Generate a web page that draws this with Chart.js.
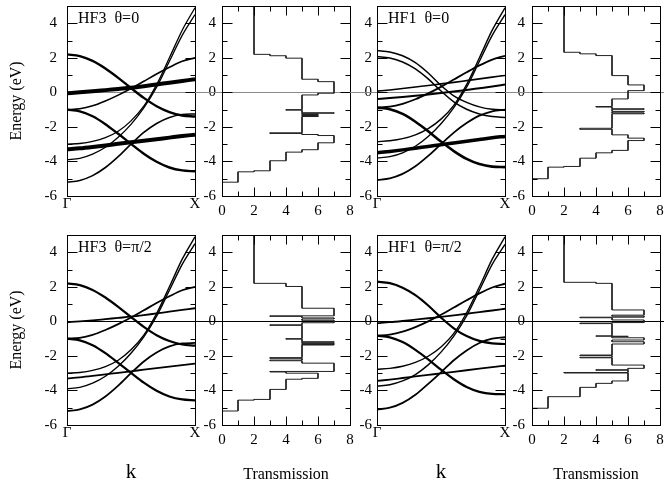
<!DOCTYPE html>
<html>
<head>
<meta charset="utf-8">
<script src="https://cdn.jsdelivr.net/npm/chart.js@4.4.0/dist/chart.umd.min.js"></script>
<style>
html, body { margin: 0; padding: 0; background: #fff; }
#wrap { position: relative; width: 664px; height: 487px; overflow: hidden; background: #fff; }
#wrap canvas { position: absolute; }
</style>
</head>
<body>
<div id="wrap"></div>
<script>
// k along Gamma -> X, sampled every 0.1
const kPoints = [0, 0.1, 0.2, 0.3, 0.4, 0.5, 0.6, 0.7, 0.8, 0.9, 1];
const kTickLabels = ['Γ', 'X'];
const energyTicks = [-6, -4, -2, 0, 2, 4];
const transTicks = [0, 2, 4, 6, 8];

// band energies (eV) at kPoints, HF3 (same for both angles)
const hf3Bands = [
  [2.2, 2.1, 1.82, 1.38, 0.84, 0.25, -0.32, -0.8, -1.14, -1.34, -1.4],
  [-0.05, 0.0, 0.06, 0.13, 0.2, 0.27, 0.36, 0.46, 0.56, 0.66, 0.76],
  [-1.0, -0.95, -0.78, -0.5, -0.16, 0.22, 0.64, 1.06, 1.45, 1.8, 2.0],
  [-1.0, -1.1, -1.38, -1.84, -2.4, -2.98, -3.55, -4.02, -4.35, -4.52, -4.57],
  [-5.2, -5.1, -4.82, -4.35, -3.72, -3.0, -2.32, -1.8, -1.45, -1.28, -1.25],
  [-3.3, -3.24, -3.16, -3.07, -2.98, -2.89, -2.8, -2.71, -2.62, -2.53, -2.45],
  [-3.0, -2.96, -2.84, -2.62, -2.25, -1.65, -0.8, 0.45, 2.0, 3.6, 4.9],
  [-3.9, -3.82, -3.58, -3.18, -2.6, -1.85, -0.9, 0.3, 1.8, 3.3, 4.5]
];

// HF1, theta = 0
const hf1Theta0Bands = [
  [2.42, 2.34, 2.12, 1.72, 1.12, 0.4, -0.2, -0.58, -0.84, -0.98, -1.02],
  [2.07, 1.99, 1.76, 1.36, 0.78, 0.08, -0.55, -0.98, -1.25, -1.4, -1.45],
  [0.07, 0.14, 0.22, 0.31, 0.4, 0.49, 0.58, 0.68, 0.78, 0.88, 0.98],
  [-0.38, -0.33, -0.27, -0.2, -0.12, -0.04, 0.05, 0.14, 0.24, 0.34, 0.45],
  [-0.88, -0.83, -0.66, -0.4, -0.06, 0.32, 0.74, 1.16, 1.56, 1.9, 2.12],
  [-0.88, -0.98, -1.25, -1.7, -2.25, -2.85, -3.4, -3.85, -4.15, -4.3, -4.33],
  [-5.07, -4.98, -4.72, -4.28, -3.68, -3.0, -2.33, -1.78, -1.35, -1.1, -1.0],
  [-3.5, -3.42, -3.33, -3.23, -3.13, -3.03, -2.93, -2.83, -2.73, -2.63, -2.55],
  [-2.85, -2.8, -2.68, -2.46, -2.1, -1.55, -0.75, 0.45, 2.0, 3.6, 4.9],
  [-3.8, -3.72, -3.5, -3.12, -2.56, -1.82, -0.88, 0.3, 1.8, 3.3, 4.5]
];

// HF1, theta = pi/2
const hf1Theta90Bands = [
  [2.3, 2.21, 1.95, 1.52, 0.92, 0.22, -0.4, -0.85, -1.13, -1.27, -1.31],
  [-0.1, -0.05, 0.02, 0.1, 0.18, 0.26, 0.35, 0.44, 0.54, 0.63, 0.73],
  [-0.83, -0.77, -0.6, -0.33, 0.0, 0.38, 0.8, 1.22, 1.62, 1.96, 2.18],
  [-0.83, -0.93, -1.2, -1.65, -2.2, -2.8, -3.35, -3.8, -4.08, -4.2, -4.22],
  [-5.1, -5.0, -4.72, -4.25, -3.62, -2.95, -2.25, -1.68, -1.25, -1.0, -0.92],
  [-3.45, -3.37, -3.28, -3.19, -3.1, -3.01, -2.92, -2.83, -2.74, -2.65, -2.57],
  [-2.77, -2.72, -2.6, -2.38, -2.02, -1.48, -0.7, 0.5, 2.0, 3.6, 4.9],
  [-3.75, -3.67, -3.45, -3.08, -2.52, -1.78, -0.85, 0.32, 1.8, 3.3, 4.45]
];

// transmission staircases: energy edges (top to bottom) and the value in each interval
const trHf3Theta0Edges = [5, 2.2, 2.12, 1.98, 0.76, 0.62, -0.05, -0.15, -1.0, -1.03, -1.18, -1.21, -1.25, -1.28, -1.31, -1.34, -1.37, -1.4, -2.34, -2.38, -2.44, -2.5, -2.92, -3.32, -3.46, -3.96, -4.54, -4.6, -5.2, -6];
const trHf3Theta0Values = [2, 3, 4, 5, 6, 7, 6, 5, 4, 5, 7, 5, 6, 5, 6, 5, 6, 5, 3, 5, 6, 7, 6, 5, 4, 3, 2, 1, 0];

const trHf1Theta0Edges = [5, 2.32, 2.23, 2.13, 0.97, 0.43, 0.1, -0.38, -0.82, -0.85, -0.95, -0.98, -1.1, -1.14, -1.2, -1.24, -2.08, -2.14, -2.46, -2.65, -2.79, -3.36, -3.5, -3.81, -4.29, -4.33, -5.0, -6];
const trHf1Theta0Values = [2, 3, 4, 5, 6, 7, 6, 5, 4, 5, 7, 5, 7, 5, 7, 5, 3, 5, 6, 7, 6, 5, 4, 3, 2, 1, 0];

const trHf3Theta90Edges = [5, 2.2, 2.02, 0.76, 0.32, 0.29, 0.2, 0.14, 0.06, -0.08, -0.2, -0.23, -1.0, -1.03, -1.18, -1.21, -1.26, -1.29, -1.34, -1.37, -2.1, -2.14, -2.24, -2.28, -2.42, -2.9, -2.93, -3.0, -3.3, -3.35, -3.94, -4.52, -4.56, -5.19, -6];
const trHf3Theta90Values = [2, 4, 5, 7, 3, 5, 7, 5, 7, 5, 3, 5, 4, 5, 7, 5, 7, 5, 7, 5, 3, 5, 3, 5, 7, 3, 4, 6, 5, 4, 3, 2, 1, 0];

const trHf1Theta90Edges = [5, 2.26, 2.2, 0.66, 0.36, 0.3, 0.24, 0.21, 0.08, -0.07, -0.1, -0.13, -0.84, -0.86, -0.88, -0.95, -1.08, -1.18, -1.31, -1.95, -1.98, -2.08, -2.11, -2.53, -2.72, -2.8, -2.83, -2.96, -2.99, -3.45, -3.59, -3.82, -4.36, -5.03, -6];
const trHf1Theta90Values = [2, 4, 5, 7, 5, 7, 3, 5, 7, 5, 3, 5, 4, 6, 5, 7, 5, 7, 5, 3, 5, 3, 5, 7, 6, 4, 6, 2, 6, 5, 4, 3, 1, 0];

// line widths per band (style, not data)
const hf3Theta0Widths = [2.4, 4, 1.6, 2.4, 1.6, 4, 1.3, 1.3];
const hf3Theta90Widths = [2.2, 1.8, 1.8, 2.2, 1.8, 1.8, 1.4, 1.4];
const hf1Theta0Widths = [1.5, 1.5, 1.6, 2, 1.8, 2.6, 1.8, 3.5, 1.4, 1.4];
const hf1Theta90Widths = [2.2, 1.8, 1.8, 2.2, 1.8, 1.8, 1.4, 1.4];

// layout of the plot boxes in the page
const colLeft = [67, 222, 377, 532];
const colRight = [195, 350, 505, 660];
const rowTop = [6, 235];
const rowBottom = [196, 425];
const labelPad = [10, 6, 5, 7];

const FONT = "'Liberation Serif', 'Times New Roman', serif";
Chart.defaults.font.family = FONT;
Chart.defaults.color = '#000';

// box, inward ticks, E=0 line and the panel tag
const framePlugin = {
  id: 'frame',
  beforeDatasetsDraw(chart, args, o) {
    const {ctx, chartArea: a, scales: {y}} = chart;
    const y0 = Math.round(y.getPixelForValue(0)) + 0.5;
    ctx.save();
    ctx.strokeStyle = o.zeroColor;
    ctx.lineWidth = 1;
    ctx.beginPath();
    ctx.moveTo(a.left - o.zeroLeft, y0);
    ctx.lineTo(a.right + o.zeroRight, y0);
    ctx.stroke();
    ctx.restore();
  },
  afterDatasetsDraw(chart, args, o) {
    const {ctx, chartArea: a, scales: {x, y}} = chart;
    ctx.save();
    ctx.strokeStyle = '#000';
    ctx.lineWidth = 1;
    const l = Math.round(a.left) + 0.5, r = Math.round(a.right) + 0.5;
    const t = Math.round(a.top) + 0.5, b = Math.round(a.bottom) + 0.5;
    ctx.strokeRect(l, t, r - l, b - t);
    ctx.beginPath();
    for (let v = y.min + 1; v < y.max; v++) {
      const py = Math.round(y.getPixelForValue(v)) + 0.5;
      const len = v % 2 === 0 ? 10 : 5;
      ctx.moveTo(l, py); ctx.lineTo(l + len, py);
      ctx.moveTo(r, py); ctx.lineTo(r - len, py);
    }
    if (o.xTicks) {
      for (let v = x.min + 1; v < x.max; v++) {
        const px = Math.round(x.getPixelForValue(v)) + 0.5;
        const len = v % 2 === 0 ? 9 : 5;
        ctx.moveTo(px, t); ctx.lineTo(px, t + len);
        ctx.moveTo(px, b); ctx.lineTo(px, b - len);
      }
    }
    ctx.stroke();
    if (o.tag) {
      ctx.font = '16px ' + FONT;
      ctx.fillStyle = '#000';
      ctx.textBaseline = 'alphabetic';
      ctx.fillText(o.tag, a.left + 11, a.top + 17);
    }
    ctx.restore();
  }
};

function stairs(edges, values) {
  const pts = [];
  values.forEach((t, i) => {
    pts.push({x: t, y: edges[i]});
    pts.push({x: t, y: edges[i + 1]});
  });
  return pts;
}

const panels = [
  {row: 0, col: 0, bands: hf3Bands, widths: hf3Theta0Widths, tag: 'HF3  θ=0'},
  {row: 0, col: 1, edges: trHf3Theta0Edges, values: trHf3Theta0Values},
  {row: 0, col: 2, bands: hf1Theta0Bands, widths: hf1Theta0Widths, tag: 'HF1  θ=0'},
  {row: 0, col: 3, edges: trHf1Theta0Edges, values: trHf1Theta0Values},
  {row: 1, col: 0, bands: hf3Bands, widths: hf3Theta90Widths, tag: 'HF3  θ=π/2'},
  {row: 1, col: 1, edges: trHf3Theta90Edges, values: trHf3Theta90Values},
  {row: 1, col: 2, bands: hf1Theta90Bands, widths: hf1Theta90Widths, tag: 'HF1  θ=π/2'},
  {row: 1, col: 3, edges: trHf1Theta90Edges, values: trHf1Theta90Values}
];

const wrap = document.getElementById('wrap');

function makePanel(p) {
  const L = colLeft[p.col], R = colRight[p.col];
  const T = rowTop[p.row], B = rowBottom[p.row];
  const isBand = !!p.bands;
  const W = p.col === 0 ? L : 40;
  const H = p.row === 0 ? 30 : 62;
  const PAD_T = 26, PAD_R = 14;

  const cv = document.createElement('canvas');
  cv.width = R - L + W + PAD_R;
  cv.height = B - T + PAD_T + H;
  cv.style.left = (L - W) + 'px';
  cv.style.top = (T - PAD_T) + 'px';
  wrap.appendChild(cv);

  let datasets;
  if (isBand) {
    datasets = p.bands.map((band, i) => ({
      data: kPoints.map((k, j) => ({x: k, y: band[j]})),
      borderColor: '#000',
      borderWidth: p.widths[i],
      pointRadius: 0,
      cubicInterpolationMode: 'monotone',
      fill: false
    }));
  } else {
    datasets = [{
      data: stairs(p.edges, p.values),
      borderColor: '#222',
      borderWidth: 1,
      pointRadius: 0,
      tension: 0,
      fill: false
    }];
  }

  const bottomRow = p.row === 1;
  const chart = new Chart(cv, {
    type: 'line',
    data: {datasets},
    options: {
      responsive: false,
      maintainAspectRatio: false,
      animation: false,
      devicePixelRatio: 1,
      events: [],
      layout: {padding: {top: PAD_T, right: PAD_R, left: 0, bottom: 0}},
      plugins: {
        legend: {display: false},
        tooltip: {enabled: false},
        frame: {
          tag: p.tag,
          xTicks: !isBand,
          zeroColor: p.row === 0 ? '#8a8a8a' : '#000',
          zeroLeft: p.col > 0 ? L - colRight[p.col - 1] : 0,
          zeroRight: p.col === 3 ? 4 : 0
        }
      },
      scales: {
        x: {
          type: 'linear',
          min: 0,
          max: isBand ? 1 : 8,
          afterBuildTicks: s => {
            s.ticks = (isBand ? [0, 1] : transTicks).map(v => ({value: v}));
          },
          afterFit: s => { s.height = H; },
          grid: {display: false, drawTicks: false},
          border: {display: false},
          ticks: {
            font: {size: 15},
            padding: isBand ? -1 : 6,
            maxRotation: 0,
            autoSkip: false,
            callback: v => isBand ? kTickLabels[v === 0 ? 0 : 1] : String(v)
          },
          title: {
            display: bottomRow,
            text: isBand ? 'k' : 'Transmission',
            font: {size: isBand ? 21 : 16},
            padding: {top: 0, bottom: isBand ? 2 : 2.7}
          }
        },
        y: {
          type: 'linear',
          min: -6,
          max: 5,
          afterBuildTicks: s => { s.ticks = energyTicks.map(v => ({value: v})); },
          afterFit: s => { s.width = W; },
          grid: {display: false, drawTicks: false},
          border: {display: false},
          ticks: {font: {size: 15}, padding: labelPad[p.col], callback: v => String(v)},
          title: {
            display: p.col === 0,
            text: 'Energy (eV)',
            font: {size: 16},
            padding: {top: 7.5, bottom: 0}
          }
        }
      }
    },
    plugins: [framePlugin]
  });

  // make the plot box land exactly on its place
  const ca = chart.chartArea;
  const dw = (ca.right - ca.left) - (R - L);
  if (Math.abs(dw) > 0.01) {
    chart.options.layout.padding.right += dw;
    chart.update();
  }
  const ca2 = chart.chartArea;
  cv.style.left = (L - ca2.left) + 'px';
  cv.style.top = (T - ca2.top) + 'px';
}

panels.forEach(makePanel);
</script>
</body>
</html>
